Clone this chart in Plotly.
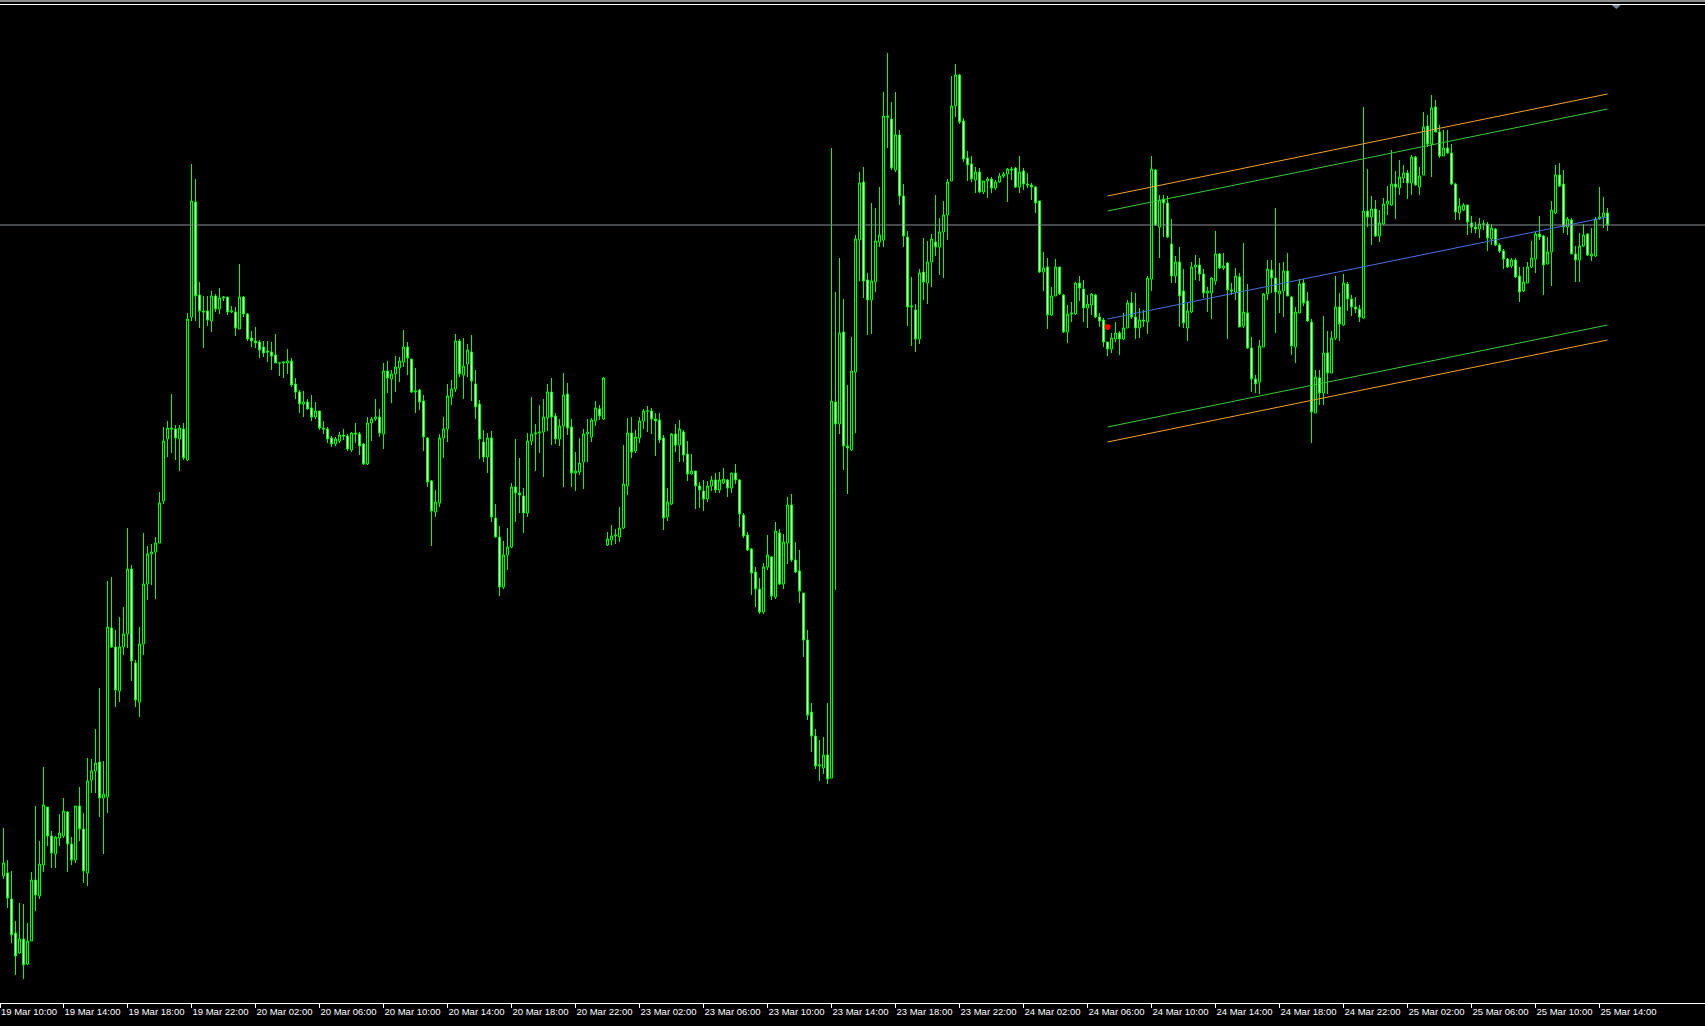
import plotly.graph_objects as go

# M15 candles, prices in points (arbitrary offset, no price scale shown)
OPEN = [
    127,130,104,70,50,64,39,62,123,107, 138,196,167,149,165,167,191,159,143,197,
    174,130,223,232,241,205,206,375,356,312, 356,369,434,340,301,359,419,449,451,460,
    502,564,575,574,564,574,543,686,801,708, 692,692,682,707,694,705,706,691,691,674,
    706,689,665,662,661,656,652,651,648,640, 640,640,642,619,611,599,601,595,586,592,
    575,574,565,559,562,568,567,553,570,569, 559,539,580,584,586,569,632,624,629,635,
    641,656,644,611,613,602,565,522,491,500, 565,574,606,614,662,628,639,651,619,599,
    561,546,565,485,466,416,448,456,516,510, 507,490,562,569,570,571,585,611,587,564,
    577,609,576,530,531,541,569,566,582,594, 584,458,463,467,466,475,517,570,552,565,
    582,592,592,584,583,565,486,499,569,558, 571,549,529,532,517,512,504,517,523,513,
    520,523,515,530,523,488,468,454,431,414, 391,436,446,406,470,419,460,498,443,432,
    410,363,291,267,237,235,248,225,601,579, 671,557,553,631,763,821,723,703,721,761,
    763,887,884,833,868,807,766,696,693,664, 731,720,741,761,756,771,788,822,897,928,
    882,845,839,823,831,811,822,824,815,821, 827,829,834,835,816,832,819,818,816,802,
    731,736,688,707,736,708,671,689,689,720, 714,695,698,708,686,683,661,654,664,670,
    664,675,700,686,675,683,681,724,833,776, 804,800,759,727,741,712,675,691,736,738,
    729,710,710,722,749,735,740,713,711,726, 677,690,655,624,621,656,709,733,725,709,
    712,732,706,656,690,720,702,681,590,625, 610,650,630,665,696,678,719,704,696,694,
    685,792,786,794,767,779,799,798,819,815, 825,830,820,846,816,828,877,859,896,871,
    847,855,850,819,790,793,798,780,776,774, 779,779,764,774,758,752,744,737,743,727,
    712,720,736,744,769,767,739,751,790,828, 819,776,783,749,743,757,769,747,747,784,
    786,790,
]
HIGH = [
    175,143,132,82,100,99,80,131,197,162, 236,196,172,167,189,205,192,166,197,216,
    190,245,244,274,315,242,422,426,373,386, 396,475,438,343,376,470,457,459,466,511,
    576,582,609,578,578,580,690,839,824,721, 707,707,712,709,715,707,706,697,696,739,
    707,690,672,676,663,662,662,661,669,640, 641,654,645,625,613,612,604,608,601,592,
    582,576,567,566,571,574,569,571,580,571, 560,586,586,604,594,640,642,633,647,646,
    673,661,644,635,614,608,566,523,513,569, 586,619,623,669,664,665,659,668,633,603,
    573,570,572,499,477,462,475,520,564,545, 515,570,606,579,598,604,619,625,590,584,
    630,620,584,551,565,574,584,585,602,598, 626,471,478,474,496,558,585,586,573,586,
    594,597,595,590,590,568,515,570,579,583, 573,562,549,532,521,523,522,527,530,531,
    535,524,530,539,524,490,471,455,436,425, 440,468,447,481,474,469,506,509,461,453,
    410,373,300,274,263,266,300,855,711,745, 704,618,666,768,831,836,730,800,795,816,
    911,950,901,911,873,819,772,726,699,734, 765,762,769,808,785,802,824,927,939,929,
    885,852,847,836,835,822,826,826,823,830, 831,835,836,836,847,835,830,820,817,802,
    751,745,716,744,736,709,698,701,721,727, 723,708,710,709,690,685,661,670,681,672,
    690,703,711,710,695,693,727,847,834,808, 808,807,784,747,756,734,700,741,748,745,
    734,716,726,772,750,750,741,720,735,730, 760,719,666,628,663,710,743,743,795,740,
    741,750,707,696,724,724,711,684,633,633, 687,672,672,727,710,729,721,708,706,698,
    896,834,807,803,793,805,817,853,832,843, 838,833,848,847,836,891,888,908,903,878,
    873,873,859,820,805,800,798,787,781,785, 783,781,779,775,760,754,745,745,745,736,
    736,741,762,771,787,768,766,802,838,840, 833,786,785,757,770,779,770,775,786,816,
    806,795,
]
LOW = [
    124,95,60,28,49,24,38,62,92,104, 131,157,135,135,157,165,131,138,140,162,
    120,117,210,210,186,149,190,355,296,301, 348,355,322,296,286,348,403,418,404,460,
    499,546,550,543,532,543,542,682,682,675, 655,677,671,691,689,702,688,690,667,674,
    686,662,656,655,645,646,641,633,640,627, 625,629,616,604,590,586,593,582,584,573,
    569,560,556,557,560,563,552,551,560,548, 538,538,562,582,566,554,610,600,611,621,
    636,628,610,590,593,552,516,457,486,496, 545,561,598,611,626,604,626,602,584,544,
    541,530,481,465,407,414,433,455,481,490, 470,486,558,532,550,526,572,558,559,557,
    516,568,516,512,528,514,541,561,577,583, 583,457,458,459,461,474,508,545,550,560,
    574,571,569,547,560,473,482,498,551,541, 541,522,528,494,495,492,501,512,510,510,
    519,506,510,519,476,465,452,408,396,389, 389,433,403,404,418,414,439,441,430,400,
    346,283,251,234,222,229,219,225,413,569, 533,509,552,570,722,705,668,669,711,756,
    756,855,833,831,798,756,677,657,651,659, 703,699,716,747,728,725,763,822,886,879,
    841,822,821,810,810,809,805,810,813,820, 825,801,823,815,810,813,815,803,790,730,
    712,674,687,707,708,670,660,681,688,702, 681,675,688,685,676,656,647,650,661,648,
    663,675,684,664,665,676,669,712,777,745, 766,765,720,720,676,675,662,690,723,722,
    705,691,684,718,734,733,664,708,703,676, 675,654,611,610,609,656,703,710,670,690,
    686,707,648,640,690,697,681,560,590,598, 598,609,630,663,662,677,692,687,690,681,
    684,776,758,766,761,778,788,797,784,808, 820,804,808,817,808,828,856,826,871,845,
    847,849,818,783,783,792,768,770,770,765, 773,752,758,757,750,734,735,735,725,701,
    711,720,735,730,763,708,739,717,789,816, 770,768,749,721,721,756,747,742,746,783,
    775,772,
]
CLOSE = [
    140,105,68,47,64,38,62,123,108,139, 198,167,150,166,170,192,159,143,197,174,
    132,222,232,240,205,209,376,356,313,356, 369,434,342,303,359,419,449,451,460,500,
    562,575,574,565,575,545,684,802,707,692, 691,683,707,694,705,706,691,692,675,706,
    689,664,662,660,653,650,651,647,640,640, 641,642,618,611,599,601,594,586,592,575,
    574,564,559,564,568,567,554,570,569,557, 539,580,584,586,570,632,625,629,636,642,
    656,645,611,612,601,566,521,492,501,565, 574,607,614,662,629,637,653,622,596,564,
    546,565,486,466,416,448,456,516,510,508, 490,562,569,570,571,586,611,586,564,577,
    608,575,530,532,540,569,571,583,595,587, 625,464,467,468,475,519,570,551,566,582,
    592,592,584,582,563,485,501,569,558,574, 548,529,532,517,513,504,517,523,513,523,
    524,515,530,523,489,467,453,430,414,391, 436,448,407,472,419,461,498,443,431,412,
    363,288,267,237,238,248,224,602,579,670, 557,555,632,764,820,722,703,722,762,768,
    887,886,835,868,807,767,696,697,664,730, 721,741,764,756,771,788,821,897,928,881,
    844,838,824,831,811,822,824,815,821,827, 829,834,833,816,831,819,818,816,800,731,
    735,688,707,736,709,671,689,690,720,715, 695,699,709,686,682,661,654,665,670,664,
    675,700,686,675,683,682,725,834,778,803, 800,766,727,741,707,680,692,736,738,729,
    710,712,725,749,735,737,713,712,727,676, 691,655,624,619,657,709,734,725,711,712,
    732,707,657,691,719,700,682,591,626,610, 650,630,665,696,679,720,704,696,694,686,
    792,786,794,767,780,799,802,819,816,826, 830,820,846,818,827,876,859,895,871,847,
    855,850,819,791,797,798,781,776,774,779, 779,765,775,758,752,744,736,743,726,711,
    721,736,745,769,766,738,751,793,828,817, 776,784,749,743,757,768,748,749,784,786,
    790,778,
]

TICK_BARS = [-1, 15, 31, 47, 63, 79, 95, 111, 127, 143, 159, 175, 191, 207, 223, 239,
             255, 271, 287, 303, 319, 335, 351, 367, 383, 399]
TICK_LABELS = [
    "19 Mar 10:00", "19 Mar 14:00", "19 Mar 18:00", "19 Mar 22:00",
    "20 Mar 02:00", "20 Mar 06:00", "20 Mar 10:00", "20 Mar 14:00", "20 Mar 18:00", "20 Mar 22:00",
    "23 Mar 02:00", "23 Mar 06:00", "23 Mar 10:00", "23 Mar 14:00", "23 Mar 18:00", "23 Mar 22:00",
    "24 Mar 02:00", "24 Mar 06:00", "24 Mar 10:00", "24 Mar 14:00", "24 Mar 18:00", "24 Mar 22:00",
    "25 Mar 02:00", "25 Mar 06:00", "25 Mar 10:00", "25 Mar 14:00",
]

BID = 778
CHANNEL_BARS = [276, 401]
CHANNEL_MID = [684, 786]
CHANNEL_OFFSETS = [123, 108, 0, -108, -123]
CHANNEL_COLORS = ["#F0A030", "#3CC83C", "#4A6FE0", "#3CC83C", "#F0A030"]
MARKER_BAR = [276]
MARKER_PRICE = [676]

# visible window (bars); 4 px per bar, bars centred on pixel columns
X_START = -0.875
X_END = 425.375

bars = list(range(len(CLOSE)))
tick_positions = [max(b, X_START) for b in TICK_BARS]

fig = go.Figure()
fig.add_trace(go.Candlestick(
    x=bars, open=OPEN, high=HIGH, low=LOW, close=CLOSE,
    increasing=dict(line=dict(color="#00FF00", width=1), fillcolor="#000000"),
    decreasing=dict(line=dict(color="#00FF00", width=1), fillcolor="#FFFFFF"),
    whiskerwidth=0, hoverinfo="skip", showlegend=False,
))

for off, col in zip(CHANNEL_OFFSETS, CHANNEL_COLORS):
    fig.add_trace(go.Scatter(
        x=CHANNEL_BARS, y=[CHANNEL_MID[0] + off, CHANNEL_MID[1] + off],
        mode="lines", line=dict(color=col, width=1), hoverinfo="skip", showlegend=False,
    ))

fig.add_trace(go.Scatter(
    x=MARKER_BAR, y=MARKER_PRICE, mode="markers",
    marker=dict(color="#FF0000", size=6, line=dict(width=0)), hoverinfo="skip", showlegend=False,
))

# bid line
fig.add_shape(type="line", xref="paper", x0=0, x1=1, yref="y", y0=BID, y1=BID,
              line=dict(color="#8C9298", width=1), layer="above")
# window frame lines at top
fig.add_shape(type="line", xref="paper", x0=0, x1=1, yref="paper", y0=0.999, y1=0.999,
              line=dict(color="#8C8C8C", width=2), layer="above")
fig.add_shape(type="line", xref="paper", x0=0, x1=1, yref="paper", y0=0.9955, y1=0.9955,
              line=dict(color="#FFFFFF", width=1), layer="above")
# chart shift marker
fig.add_shape(type="path", xref="paper", yref="paper",
              path="M 0.9453 0.9950 L 0.9506 0.9950 L 0.9480 0.9910 Z",
              fillcolor="#7A8A9A", line=dict(width=0), layer="above")

fig.update_layout(
    width=1705, height=1026,
    margin=dict(l=0, r=0, t=0, b=23),
    paper_bgcolor="#000000", plot_bgcolor="#000000",
    showlegend=False, boxgap=0.5, boxgroupgap=0, hovermode=False,
    xaxis=dict(
        range=[X_START, X_END], rangeslider=dict(visible=False),
        showgrid=False, zeroline=False,
        showline=True, linecolor="#FFFFFF", linewidth=1,
        ticks="outside", ticklen=4, tickcolor="#FFFFFF", tickwidth=1,
        tickmode="array", tickvals=tick_positions, ticktext=TICK_LABELS,
        tickfont=dict(family="Liberation Sans", size=9.5, color="#FFFFFF"),
        tickangle=0, automargin=False,
        ticklabelposition="outside right", fixedrange=True,
    ),
    yaxis=dict(range=[0, 1003], visible=False, showgrid=False, zeroline=False, fixedrange=True),
)

fig.write_html(
    "out.html",
    config={"displayModeBar": False, "staticPlot": True},
    post_script="document.body.style.margin='0';document.body.style.overflow='hidden';",
)
